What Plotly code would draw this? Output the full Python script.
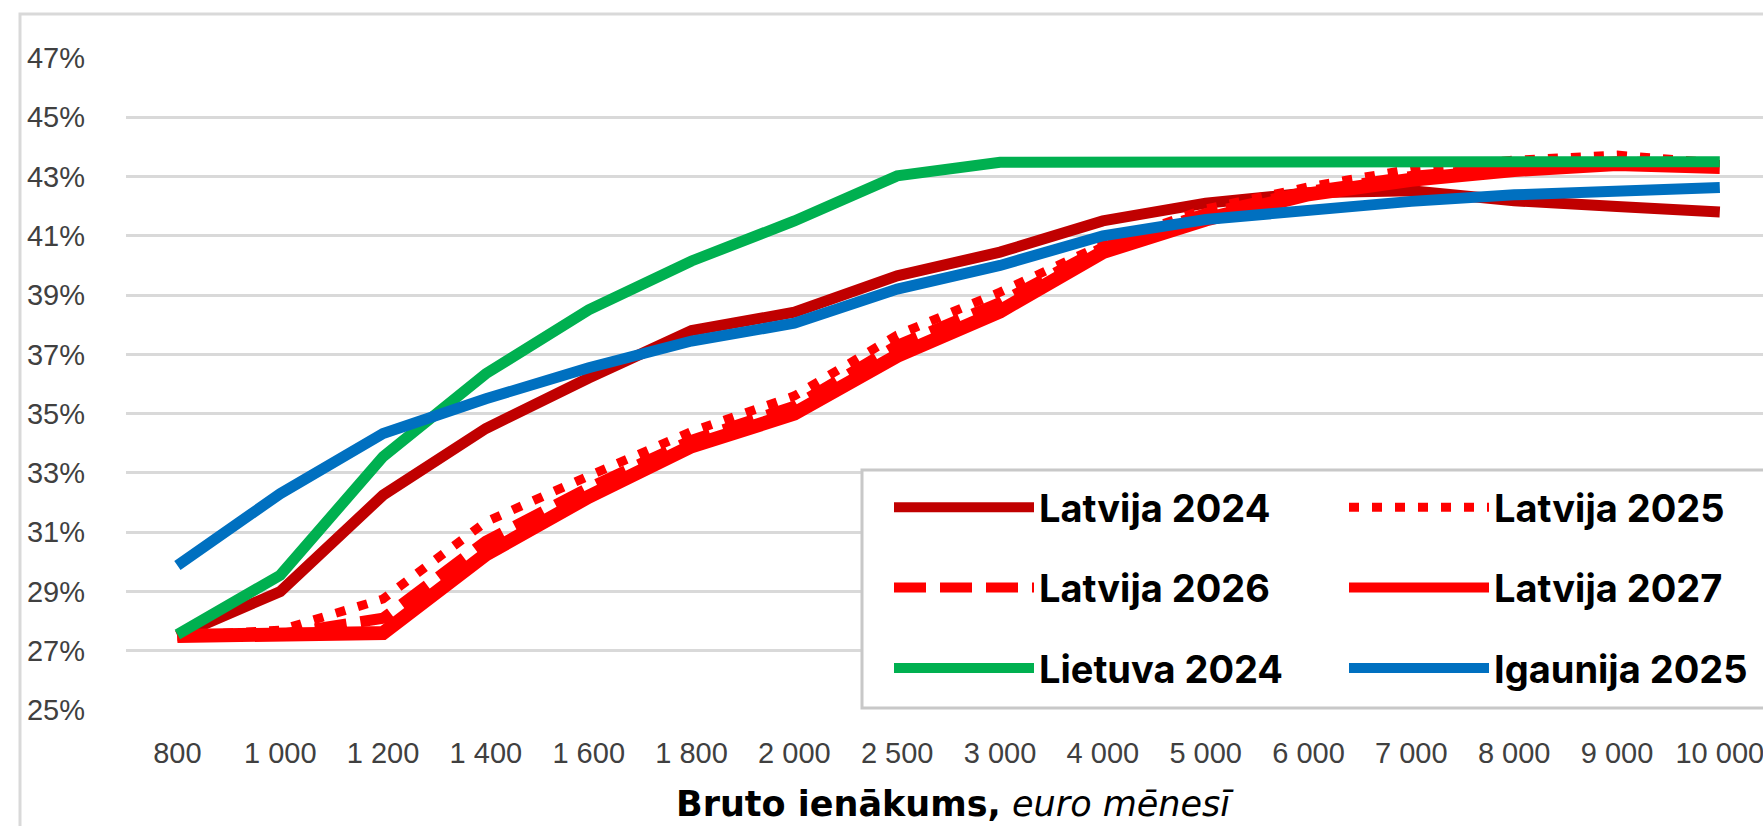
import plotly.graph_objects as go

categories = ["800", "1 000", "1 200", "1 400", "1 600", "1 800", "2 000", "2 500",
              "3 000", "4 000", "5 000", "6 000", "7 000", "8 000", "9 000", "10 000"]

latvija_2024 = [27.5, 29.0, 32.25, 34.5, 36.2, 37.8, 38.42, 39.65, 40.45, 41.5, 42.1, 42.45, 42.52, 42.18, 41.99, 41.8]
latvija_2025 = [27.5, 27.7, 28.75, 31.35, 32.9, 34.4, 35.6, 37.65, 39.1, 40.7, 41.9, 42.65, 43.25, 43.55, 43.72, 43.45]
latvija_2026 = [27.5, 27.55, 28.1, 30.7, 32.5, 34.1, 35.25, 37.3, 38.75, 40.6, 41.75, 42.5, 43.0, 43.3, 43.5, 43.38]
latvija_2027 = [27.5, 27.5, 27.6, 30.25, 32.2, 33.9, 35.0, 36.95, 38.45, 40.45, 41.55, 42.4, 42.89, 43.22, 43.42, 43.32]
lietuva_2024 = [27.55, 29.55, 33.55, 36.35, 38.5, 40.15, 41.5, 43.02, 43.48, 43.5, 43.5, 43.5, 43.5, 43.5, 43.5, 43.5]
igaunija_2025 = [29.88, 32.3, 34.33, 35.5, 36.55, 37.45, 38.05, 39.2, 40.0, 41.0, 41.55, 41.88, 42.16, 42.38, 42.55, 42.63]

y_ticks = list(range(25, 48, 2))
y_tick_labels = [f"{v}%" for v in y_ticks]

# name, values, colour, width, dash, legend column
series = [
    ("Latvija 2024", latvija_2024, "#C00000", 11, "solid", "legend"),
    ("Latvija 2025", latvija_2025, "#FF0000", 9, "10px,13px", "legend2"),
    ("Latvija 2026", latvija_2026, "#FF0000", 11, "32px,14px", "legend"),
    ("Latvija 2027", latvija_2027, "#FF0000", 14, "solid", "legend2"),
    ("Lietuva 2024", lietuva_2024, "#00B050", 11, "solid", "legend"),
    ("Igaunija 2025", igaunija_2025, "#0070C0", 11, "solid", "legend2"),
]

fig = go.Figure()
for name, vals, color, width, dash, leg in series:
    fig.add_trace(go.Scatter(
        x=categories, y=vals, mode="lines", name=name,
        legend=leg, legendgroup=name,
        line=dict(color=color, width=width, dash=dash),
    ))

W, H = 1763, 826
ml, mr, mt, mb = 126, 0, 57, 115
pw = W - ml - mr
ph = H - mt - mb


def px_x(x):
    return (x - ml) / pw


def px_y(y):
    return (H - mb - y) / ph


legend_common = dict(
    orientation="v",
    xanchor="left", yanchor="top",
    bgcolor="rgba(0,0,0,0)", borderwidth=0,
    font=dict(family="Inter", size=38, color="black", weight=700),
    itemwidth=140,
    valign="middle",
    traceorder="grouped",
    tracegroupgap=28,
)

fig.update_layout(
    width=W, height=H,
    margin=dict(l=ml, r=mr, t=mt, b=mb, autoexpand=False),
    paper_bgcolor="white", plot_bgcolor="white",
    font=dict(family="Liberation Sans, Arial", color="#404040"),
    showlegend=True,
    legend=dict(x=px_x(889), y=px_y(476), **legend_common),
    legend2=dict(x=px_x(1344), y=px_y(476), **legend_common),
    xaxis=dict(
        type="category",
        range=[-0.5, 15.42],
        showgrid=False, showline=False, zeroline=False,
        ticks="", tickfont=dict(size=29, color="#404040"),
        ticklabelstandoff=22, automargin=False,
    ),
    yaxis=dict(
        range=[24.97, 47.03],
        tickvals=y_ticks, ticktext=y_tick_labels,
        showgrid=True, gridcolor="#d9d9d9", gridwidth=3,
        zeroline=False, showline=False, ticks="",
        tickfont=dict(size=29, color="#404040"),
        ticklabelstandoff=40, automargin=False,
    ),
    annotations=[dict(
        text="<b>Bruto ienākums,</b> <i>euro mēnesī</i>",
        xref="paper", yref="paper",
        x=px_x(955), y=px_y(804),
        xanchor="center", yanchor="middle", showarrow=False,
        font=dict(family="DejaVu Sans", size=35, color="black"),
    )],
    shapes=[
        dict(
            type="rect", xref="paper", yref="paper",
            x0=px_x(20), x1=1.2,
            y0=-0.4, y1=px_y(14),
            line=dict(color="#d9d9d9", width=3), fillcolor="rgba(0,0,0,0)",
            layer="below",
        ),
        dict(
            type="rect", xref="paper", yref="paper",
            x0=px_x(862), x1=1.1,
            y0=px_y(708), y1=px_y(470),
            line=dict(color="#c8c8c8", width=3), fillcolor="white",
            layer="above",
        ),
    ],
)

fig.write_html("out.html", config={"displayModeBar": False})

# remove the default page margin so the figure sits at the top-left corner
with open("out.html", "r", encoding="utf-8") as f:
    html = f.read()
html = html.replace("<head>", "<head><style>html,body{margin:0;padding:0;overflow:hidden;}</style>", 1)
with open("out.html", "w", encoding="utf-8") as f:
    f.write(html)
